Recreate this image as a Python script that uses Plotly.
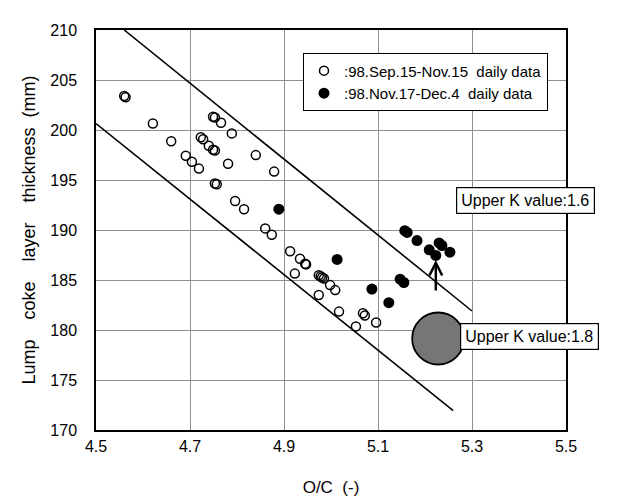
import plotly.graph_objects as go

# ---- data ----
open_x = [4.560, 4.563, 4.621, 4.660, 4.691, 4.704, 4.719, 4.723, 4.728, 4.740,
          4.749, 4.753, 4.749, 4.753, 4.766, 4.789, 4.781, 4.840, 4.879, 4.753,
          4.757, 4.796, 4.815, 4.860, 4.874, 4.913, 4.934, 4.945, 4.947, 4.923,
          4.974, 4.978, 4.981, 4.985, 4.998, 5.009, 4.974, 5.017, 5.068, 5.072,
          5.096, 5.053]
open_y = [203.40, 203.27, 200.65, 198.87, 197.43, 196.83, 196.14, 199.27, 199.07, 198.42,
          198.02, 197.95, 201.32, 201.25, 200.72, 199.66, 196.63, 197.49, 195.84, 194.65,
          194.58, 192.90, 192.08, 190.16, 189.53, 187.88, 187.13, 186.63, 186.56, 185.64,
          185.48, 185.38, 185.25, 185.15, 184.49, 183.99, 183.50, 181.84, 181.68, 181.45,
          180.75, 180.36]

filled_x = [4.889, 5.013, 5.087, 5.123, 5.147, 5.155, 5.157, 5.162, 5.183, 5.209,
            5.230, 5.236, 5.253, 5.223]
filled_y = [192.08, 187.06, 184.09, 182.73, 185.08, 184.75, 189.93, 189.76, 188.94, 188.02,
            188.71, 188.45, 187.78, 187.46]

upper_line_x = [4.560, 5.300]
upper_line_y = [210.00, 181.90]
lower_line_x = [4.500, 5.260]
lower_line_y = [200.65, 171.94]

target_x = [5.228]
target_y = [179.15]

arrow_x = 5.223
arrow_y_from = 183.80
arrow_y_to = 187.00

label_16 = "Upper K value:1.6"
label_16_pos = (5.413, 193.0)
label_18 = "Upper K value:1.8"
label_18_pos = (5.423, 179.4)

series_open_name = ":98.Sep.15-Nov.15\u00a0\u00a0daily data"
series_filled_name = ":98.Nov.17-Dec.4\u00a0\u00a0daily data"

FONT = "Liberation Sans, Arial, sans-serif"
NB = "\u00a0"

fig = go.Figure()

fig.add_trace(go.Scatter(x=upper_line_x, y=upper_line_y, mode="lines",
                         line=dict(color="black", width=1.6), showlegend=False,
                         hoverinfo="skip"))
fig.add_trace(go.Scatter(x=lower_line_x, y=lower_line_y, mode="lines",
                         line=dict(color="black", width=1.6), showlegend=False,
                         hoverinfo="skip"))

fig.add_trace(go.Scatter(x=open_x, y=open_y, mode="markers", name=series_open_name,
                         marker=dict(symbol="circle-open", size=9, color="black",
                                     line=dict(width=1.5, color="black"))))
fig.add_trace(go.Scatter(x=filled_x, y=filled_y, mode="markers", name=series_filled_name,
                         marker=dict(symbol="circle", size=11, color="black")))

fig.add_trace(go.Scatter(x=target_x, y=target_y, mode="markers", showlegend=False,
                         marker=dict(symbol="circle", size=52, color="#767676",
                                     line=dict(width=1.8, color="black"))))

fig.add_annotation(x=arrow_x, y=arrow_y_to, ax=arrow_x, ay=arrow_y_from,
                   xref="x", yref="y", axref="x", ayref="y", text="",
                   showarrow=True, arrowhead=5, arrowsize=1, arrowwidth=2.5,
                   arrowcolor="black", standoff=0)

for txt, (px, py) in [(label_16, label_16_pos), (label_18, label_18_pos)]:
    fig.add_annotation(x=px, y=py, xref="x", yref="y", text=txt, showarrow=False,
                       font=dict(family=FONT, size=16, color="black"),
                       bgcolor="white", bordercolor="black", borderwidth=1.2,
                       borderpad=4)

fig.update_layout(
    width=628, height=498,
    margin=dict(l=88, r=70, t=22, b=72),
    paper_bgcolor="white", plot_bgcolor="white",
    font=dict(family=FONT, size=16, color="black"),
    legend=dict(x=0.44, y=0.942, xanchor="left", yanchor="top",
                bordercolor="black", borderwidth=1.2, bgcolor="white",
                font=dict(family=FONT, size=15, color="black"),
                itemwidth=30, tracegroupgap=0),
)

fig.update_xaxes(range=[4.5, 5.5], dtick=0.2, tick0=4.5, tickformat=".1f",
                 showgrid=True, gridcolor="#8f8f8f", gridwidth=1,
                 showline=True, linecolor="black", linewidth=1.5, mirror=True,
                 ticks="", ticklabelstandoff=1, zeroline=False,
                 tickfont=dict(family=FONT, size=16, color="black"),
                 title=dict(text="O/C" + NB * 2 + "(-)", standoff=27,
                            font=dict(family=FONT, size=17, color="black")))
fig.update_yaxes(range=[170, 210], dtick=5, showgrid=True, gridcolor="#8f8f8f",
                 gridwidth=1, showline=True, linecolor="black", linewidth=1.5,
                 mirror=True, ticks="", ticklabelstandoff=14, zeroline=False,
                 tickfont=dict(family=FONT, size=16, color="black"),
                 title=dict(text="Lump" + NB * 4 + "coke" + NB * 4 + "layer" + NB * 4
                            + "thickness" + NB * 2 + "(mm)",
                            standoff=10,
                            font=dict(family=FONT, size=18, color="black")))

fig.write_html("out.html")
